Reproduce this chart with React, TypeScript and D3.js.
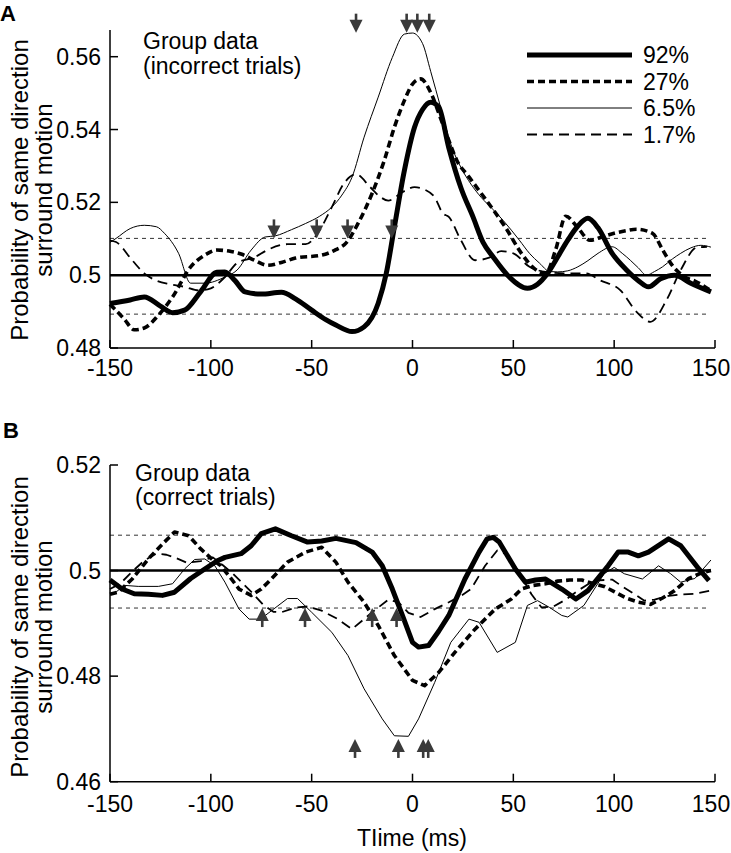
import React from 'react';
import * as d3 from 'd3';

const W = 731;
const H = 853;
const FONT = '"Liberation Sans", Arial, Helvetica, sans-serif';
const ARROW = '#3a3a3a';

const xTicks = [-150, -100, -50, 0, 50, 100, 150];
const yTicksA = [0.48, 0.5, 0.52, 0.54, 0.56];
const yTicksB = [0.46, 0.48, 0.5, 0.52];
const legendLabels = ['92%', '27%', '6.5%', '1.7%'];

// panel A - incorrect trials, [time ms, probability]
const a92 = [[-150, 0.4922], [-140, 0.4932], [-133, 0.494], [-125, 0.4915], [-119, 0.4897], [-113, 0.4904], [-105, 0.4955], [-97, 0.5008], [-93, 0.5009], [-88, 0.4985], [-83, 0.4954], [-75, 0.4948], [-65, 0.4953], [-58, 0.4935], [-50, 0.4904], [-43, 0.4878], [-38, 0.4863], [-30, 0.4845], [-24, 0.4858], [-17, 0.4923], [-13, 0.5005], [-9, 0.5132], [-4, 0.5288], [1, 0.5406], [5, 0.5455], [9, 0.5475], [13, 0.5462], [18, 0.535], [24, 0.524], [30, 0.516], [35, 0.509], [40, 0.505], [48, 0.4995], [57, 0.4964], [62, 0.4975], [67, 0.5005], [72, 0.505], [77, 0.5096], [82, 0.5135], [87, 0.5156], [92, 0.513], [99, 0.506], [106, 0.5015], [112, 0.4985], [117, 0.4968], [123, 0.499], [130, 0.5], [138, 0.4978], [148, 0.4954]];
const a27 = [[-150, 0.492], [-143, 0.488], [-138, 0.485], [-133, 0.4855], [-126, 0.489], [-119, 0.494], [-110, 0.5023], [-103, 0.5055], [-97, 0.5069], [-90, 0.5065], [-85, 0.5058], [-78, 0.504], [-72, 0.5027], [-65, 0.5035], [-58, 0.5047], [-45, 0.5055], [-38, 0.507], [-33, 0.5088], [-27, 0.5142], [-20, 0.5225], [-14, 0.5315], [-9, 0.5406], [-4, 0.548], [0, 0.5525], [4, 0.5539], [9, 0.5502], [14, 0.543], [18, 0.537], [22, 0.5315], [28, 0.527], [34, 0.5225], [40, 0.518], [46, 0.5132], [54, 0.506], [60, 0.502], [66, 0.5005], [71, 0.507], [76, 0.5162], [82, 0.513], [88, 0.5096], [94, 0.5105], [100, 0.5115], [106, 0.5122], [111, 0.5126], [119, 0.5115], [124, 0.507], [128, 0.5033], [135, 0.4995], [140, 0.4984], [148, 0.4957]];
const a65 = [[-150, 0.509], [-147, 0.5101], [-140, 0.5128], [-133, 0.5137], [-127, 0.5133], [-123, 0.5115], [-116, 0.506], [-110, 0.4978], [-103, 0.4978], [-93, 0.4995], [-87, 0.5014], [-80, 0.5069], [-73, 0.5105], [-68, 0.5108], [-60, 0.5125], [-53, 0.5142], [-46, 0.5162], [-40, 0.5187], [-35, 0.522], [-30, 0.5269], [-24, 0.5379], [-17, 0.5489], [-10, 0.5598], [-4, 0.5662], [0, 0.5665], [5, 0.5636], [9, 0.556], [14, 0.546], [19, 0.536], [24, 0.5296], [29, 0.525], [34, 0.5214], [40, 0.518], [45, 0.515], [53, 0.5096], [58, 0.506], [63, 0.5033], [68, 0.501], [72, 0.5009], [77, 0.5012], [82, 0.5023], [87, 0.504], [92, 0.506], [99, 0.5078], [104, 0.506], [108, 0.5041], [112, 0.502], [116, 0.5], [120, 0.501], [124, 0.5023], [129, 0.5045], [133, 0.506], [138, 0.5075], [143, 0.5082], [148, 0.5077]];
const a17 = [[-150, 0.5095], [-147, 0.5091], [-139, 0.5041], [-133, 0.5005], [-127, 0.4985], [-120, 0.4975], [-113, 0.4968], [-106, 0.4958], [-100, 0.4964], [-93, 0.4995], [-87, 0.5033], [-78, 0.505], [-72, 0.5069], [-62, 0.5085], [-53, 0.5085], [-47, 0.5115], [-40, 0.5187], [-34, 0.5252], [-28, 0.5277], [-21, 0.5242], [-16, 0.5215], [-12, 0.5205], [-5, 0.5228], [1, 0.5242], [6, 0.5235], [11, 0.5214], [15, 0.517], [18, 0.516], [24, 0.5096], [31, 0.5041], [38, 0.5048], [44, 0.5066], [50, 0.506], [58, 0.5023], [66, 0.5009], [75, 0.5005], [86, 0.5005], [93, 0.4986], [103, 0.4959], [111, 0.49], [118, 0.4872], [126, 0.4932], [133, 0.5014], [141, 0.5076], [146, 0.5078]];

// panel B - correct trials
const b92 = [[-150, 0.4982], [-144, 0.4965], [-138, 0.4956], [-131, 0.4955], [-124, 0.4953], [-118, 0.4959], [-110, 0.4985], [-103, 0.5003], [-97, 0.5018], [-93, 0.5025], [-85, 0.5032], [-80, 0.5047], [-75, 0.507], [-68, 0.5079], [-60, 0.5066], [-52, 0.5054], [-45, 0.5056], [-38, 0.5061], [-28, 0.5053], [-20, 0.5035], [-15, 0.5009], [-10, 0.4965], [-5, 0.4915], [0, 0.4864], [3, 0.4855], [8, 0.4858], [13, 0.4885], [18, 0.4915], [26, 0.4984], [33, 0.5035], [37, 0.506], [40, 0.5063], [43, 0.5054], [51, 0.5003], [56, 0.4978], [61, 0.4982], [66, 0.4984], [74, 0.4965], [81, 0.4946], [87, 0.4962], [97, 0.5009], [102, 0.5035], [107, 0.5035], [112, 0.5028], [117, 0.5035], [127, 0.506], [133, 0.5047], [142, 0.5003], [147, 0.4981]];
const b27 = [[-150, 0.4955], [-146, 0.4959], [-139, 0.4984], [-131, 0.5022], [-123, 0.5054], [-118, 0.5073], [-111, 0.5066], [-105, 0.5041], [-99, 0.502], [-95, 0.5009], [-90, 0.4985], [-86, 0.4965], [-80, 0.4953], [-75, 0.4965], [-70, 0.4984], [-62, 0.5016], [-53, 0.5035], [-45, 0.5044], [-38, 0.5016], [-32, 0.4978], [-24, 0.494], [-17, 0.4896], [-9, 0.4839], [0, 0.4792], [6, 0.4782], [13, 0.4807], [21, 0.4845], [31, 0.4889], [41, 0.4927], [49, 0.4946], [54, 0.4965], [60, 0.4972], [66, 0.4975], [72, 0.498], [78, 0.4982], [84, 0.4982], [90, 0.4975], [95, 0.497], [100, 0.496], [106, 0.4948], [112, 0.494], [118, 0.4936], [124, 0.4948], [130, 0.4962], [137, 0.4985], [143, 0.4995], [148, 0.5]];
const b65 = [[-148, 0.4956], [-143, 0.4972], [-136, 0.497], [-126, 0.497], [-119, 0.4975], [-113, 0.5003], [-108, 0.5021], [-103, 0.5022], [-98, 0.5009], [-93, 0.4978], [-86, 0.4927], [-81, 0.4908], [-75, 0.4908], [-73, 0.4915], [-62, 0.4947], [-57, 0.4947], [-50, 0.4921], [-40, 0.4883], [-32, 0.4839], [-24, 0.4776], [-15, 0.4719], [-9, 0.4687], [-2, 0.4686], [3, 0.4719], [11, 0.4788], [19, 0.4864], [28, 0.4908], [33, 0.4902], [42, 0.4845], [51, 0.4864], [57, 0.4934], [62, 0.4943], [68, 0.493], [74, 0.4915], [77, 0.4912], [85, 0.4934], [95, 0.4994], [100, 0.5006], [105, 0.4994], [114, 0.4984], [122, 0.5009], [128, 0.4994], [133, 0.4978], [140, 0.4985], [148, 0.502]];
const b17 = [[-150, 0.4965], [-145, 0.4975], [-139, 0.4998], [-133, 0.5019], [-127, 0.5032], [-122, 0.503], [-118, 0.5025], [-112, 0.5015], [-105, 0.5018], [-99, 0.5025], [-94, 0.501], [-89, 0.4994], [-84, 0.4975], [-79, 0.4956], [-74, 0.4935], [-69, 0.4922], [-65, 0.4921], [-58, 0.493], [-52, 0.4932], [-45, 0.4924], [-37, 0.4908], [-30, 0.4889], [-25, 0.4905], [-20, 0.4921], [-12, 0.4945], [-7, 0.494], [-2, 0.492], [4, 0.4912], [11, 0.4927], [18, 0.494], [24, 0.4952], [29, 0.4965], [36, 0.5009], [42, 0.5038], [47, 0.503], [53, 0.4995], [59, 0.4955], [64, 0.493], [70, 0.4932], [76, 0.4945], [82, 0.4962], [90, 0.4981], [99, 0.4983], [104, 0.497], [109, 0.4958], [115, 0.4943], [120, 0.4945], [127, 0.4952], [134, 0.4955], [140, 0.4956], [148, 0.4962]];

// significance thresholds and arrow markers (time, probability at the tip)
const threshA = [0.5101, 0.4893];
const threshB = [0.5067, 0.4929];
const peakArrowsA = [[-28, 0.5666], [-2.9, 0.5666], [2.4, 0.5666], [8.3, 0.5666]];
const crossArrowsA = [[-68.7, 0.5101], [-47.5, 0.5101], [-32.2, 0.5101], [-10.3, 0.5101]];
const crossArrowsB = [[-74.5, 0.4929], [-53.3, 0.4929], [-20, 0.4929], [-7.9, 0.4929]];
const troughArrowsB = [[-28.5, 0.4681], [-7, 0.4681], [5.3, 0.4681], [7.8, 0.4681]];

const styles = [
  { w: 5, dash: null },
  { w: 3.6, dash: '7,4' },
  { w: 1, dash: null },
  { w: 1.8, dash: '10,6' },
];

const x = d3.scaleLinear().domain([-150, 150]).range([110, 715]);

const Arrow = ({ cx, cy, up }) => {
  const s = up ? -1 : 1;
  const head = `M${cx - 6.5},${cy - s * 13}L${cx + 6.5},${cy - s * 13}L${cx},${cy}Z`;
  return (
    <g>
      <line x1={cx} x2={cx} y1={cy - s * 19} y2={cy - s * 10} stroke={ARROW} strokeWidth={2.6} />
      <path d={head} fill={ARROW} />
    </g>
  );
};

const Panel = ({ series, yDomain, yRange, axisTop, yTicks, thresh, arrows, up, curve, labelGap }) => {
  const y = d3.scaleLinear().domain(yDomain).range(yRange);
  const line = d3.line().x(d => x(d[0])).y(d => y(d[1])).curve(curve);
  const bottom = yRange[0];
  const order = [3, 2, 1, 0];
  return (
    <g>
      {thresh.map((t, i) => (
        <line key={i} x1={x(-150)} x2={x(146)} y1={y(t)} y2={y(t)} stroke='#333' strokeWidth={1} strokeDasharray='4,4' />
      ))}
      <line x1={x(-150)} x2={x(148)} y1={y(0.5)} y2={y(0.5)} stroke='#000' strokeWidth={2.6} />
      {order.map(i => (
        <path key={i} d={line(series[i])} fill='none' stroke='#000' strokeWidth={styles[i].w}
          strokeDasharray={styles[i].dash || undefined} strokeLinejoin='round' />
      ))}
      {arrows.map((list, k) => list.map((a, i) => (
        <Arrow key={k + '-' + i} cx={x(a[0])} cy={y(a[1])} up={up} />
      )))}
      <line x1={x(-150)} x2={x(-150)} y1={axisTop} y2={bottom} stroke='#000' strokeWidth={1.5} />
      <line x1={x(-150)} x2={x(150)} y1={bottom} y2={bottom} stroke='#000' strokeWidth={1.5} />
      {yTicks.map(t => (
        <g key={t}>
          <line x1={x(-150)} x2={x(-150) + 8} y1={y(t)} y2={y(t)} stroke='#000' strokeWidth={1.5} />
          <text x={101} y={y(t)} dy='0.35em' textAnchor='end' fontSize={23}>{String(t)}</text>
        </g>
      ))}
      {xTicks.map(t => (
        <g key={t}>
          <line x1={x(t)} x2={x(t)} y1={bottom} y2={bottom - 8} stroke='#000' strokeWidth={1.5} />
          <text x={Math.min(x(t), W - 20)} y={bottom + labelGap} textAnchor='middle' fontSize={23}>{String(t)}</text>
        </g>
      ))}
    </g>
  );
};

const App = () => {
  return (
    <svg width={W} height={H} style={{ position: 'absolute', left: 0, top: 0, background: '#fff' }} fontFamily={FONT}>
      <text x={0} y={21} fontSize={22} fontWeight='bold'>A</text>
      <text x={3} y={438} fontSize={22} fontWeight='bold'>B</text>

      <Panel series={[a92, a27, a65, a17]} yDomain={[0.48, 0.56]} yRange={[348, 56.7]} axisTop={30}
        yTicks={yTicksA} thresh={threshA} arrows={[peakArrowsA, crossArrowsA]} up={false}
        curve={d3.curveMonotoneX} labelGap={28} />
      <Panel series={[b92, b27, b65, b17]} yDomain={[0.46, 0.52]} yRange={[781.7, 465]} axisTop={465}
        yTicks={yTicksB} thresh={threshB} arrows={[crossArrowsB, troughArrowsB]} up={true}
        curve={d3.curveLinear} labelGap={30} />

      <text x={143} y={49} fontSize={23}>Group data</text>
      <text x={143} y={74} fontSize={23}>(incorrect trials)</text>
      <text x={135} y={481} fontSize={23}>Group data</text>
      <text x={135} y={505} fontSize={23}>(correct trials)</text>

      {legendLabels.map((l, i) => (
        <g key={l}>
          <line x1={527} x2={632} y1={55 + i * 26.5} y2={55 + i * 26.5} stroke='#000' strokeWidth={styles[i].w}
            strokeDasharray={styles[i].dash || undefined} />
          <text x={643} y={55 + i * 26.5} dy='0.35em' fontSize={23}>{l}</text>
        </g>
      ))}

      {[190, 627].map(c => (
        <g key={c}>
          <text transform={`translate(28,${c}) rotate(-90)`} textAnchor='middle' fontSize={24}>Probability of same direction</text>
          <text transform={`translate(52,${c}) rotate(-90)`} textAnchor='middle' fontSize={24}>surround motion</text>
        </g>
      ))}
      <text x={412} y={846} textAnchor='middle' fontSize={23}>TIime (ms)</text>
    </svg>
  );
};

export default App;
